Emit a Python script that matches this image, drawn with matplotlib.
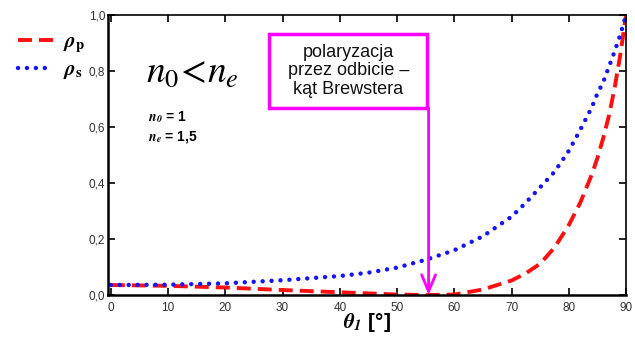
import matplotlib
matplotlib.use("Agg")
import matplotlib.pyplot as plt
from matplotlib.patches import Rectangle

# values
theta = [0, 10, 20, 30, 40, 45, 50, 55, 60, 65, 70, 72.5, 75, 77.5,
         80, 82, 84, 85, 86, 87, 88, 89, 90]
rho_s = [0.036, 0.037, 0.042, 0.053, 0.068, 0.080, 0.098, 0.126, 0.160,
         0.210, 0.280, 0.330, 0.385, 0.440, 0.515, 0.590, 0.670, 0.720,
         0.760, 0.815, 0.870, 0.930, 1.0]
rho_p = [0.036, 0.033, 0.027, 0.018, 0.010, 0.006, 0.002, 0.0, 0.002,
         0.020, 0.052, 0.078, 0.112, 0.170, 0.250, 0.330, 0.430, 0.490,
         0.560, 0.640, 0.740, 0.860, 1.0]
x_ticks = [0, 10, 20, 30, 40, 50, 60, 70, 80, 90]
y_ticks = [0.0, 0.2, 0.4, 0.6, 0.8, 1.0]
y_labels = ['0,0', '0,2', '0,4', '0,6', '0,8', '1,0']
brewster = 55.5

plt.rcParams['font.family'] = ['Liberation Sans', 'DejaVu Sans']
plt.rcParams['mathtext.fontset'] = 'stix'

fig = plt.figure(figsize=(6.35, 3.38), dpi=100)
ax = fig.add_axes([0.170, 0.127, 0.816, 0.829])

ax.plot(theta, rho_p, color='#ff1010', lw=2.8, linestyle=(0, (3.6, 1.8)),
        label=r'$\mathbfit{\rho}_\mathbf{p}$')
ax.plot(theta, rho_s, color='#1414ff', lw=3.2, linestyle=(0, (0.01, 2.0)),
        dash_capstyle='round', label=r'$\mathbfit{\rho}_\mathbf{s}$')

ax.set_xlim(-0.5, 90)
ax.set_ylim(0, 1.0)
ax.set_xticks(x_ticks)
ax.set_yticks(y_ticks)
ax.set_yticklabels(y_labels)
ax.tick_params(direction='in', top=True, right=True, length=5, width=1.2,
               labelsize=8.5, labelcolor='#333333')
ax.tick_params(axis='x', pad=5)
ax.tick_params(axis='y', pad=2)
for s in ax.spines.values():
    s.set_linewidth(1.2)
ax.spines['left'].set_linewidth(1.8)
ax.spines['bottom'].set_linewidth(1.8)

ax.set_xlabel(r'$\mathbfit{\theta}_{\mathbfit{1}}$ [°]', fontsize=15,
              fontweight='bold', labelpad=-2)

fig.legend(loc='upper left', bbox_to_anchor=(0.015, 0.93), frameon=False,
           fontsize=15, handlelength=1.7, handletextpad=0.45,
           labelspacing=0.25, borderaxespad=0)

ax.text(6.2, 0.76, r'$n_{\mathit{0}}\!<\!n_e$', fontsize=27)
ax.text(6.5, 0.62, r'$\mathbfit{n}_{\mathbfit{0}}$ = 1', fontsize=10,
        fontweight='bold')
ax.text(6.5, 0.55, r'$\mathbfit{n}_{\mathbfit{e}}$ = 1,5', fontsize=10,
        fontweight='bold')

# annotation box and arrow
ax.add_patch(Rectangle((27.7, 0.668), 27.6, 0.264, fill=True, fc='white',
                       ec='#ff00ff', lw=2.5, zorder=5))
ax.text(41.5, 0.80, 'polaryzacja\nprzez odbicie –\nkąt Brewstera',
        ha='center', va='center', fontsize=13, color='#111111',
        linespacing=1.1, zorder=6)
ax.annotate('', xy=(brewster, 0.0), xytext=(brewster, 0.668),
            arrowprops=dict(arrowstyle='->,head_length=0.6,head_width=0.25',
                            color='#ff00ff', lw=2, mutation_scale=20,
                            shrinkA=0, shrinkB=0),
            zorder=6)

fig.savefig('out.png', dpi=100)
